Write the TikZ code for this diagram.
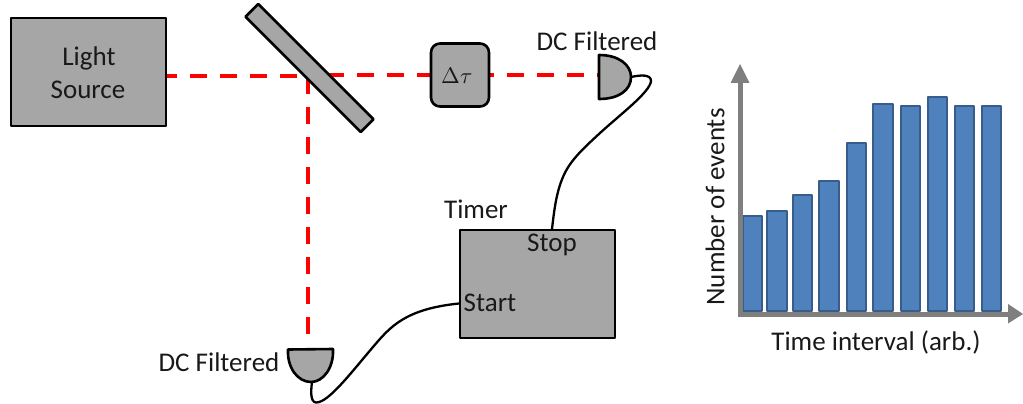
\documentclass[tikz,border=0pt]{standalone}
\usepackage{fontspec}
\usepackage{unicode-math}
\setmainfont{Carlito}
\setmathfont{Latin Modern Math}
\definecolor{boxgray}{HTML}{A6A6A6}
\definecolor{axisgray}{HTML}{7F7F7F}
\definecolor{barblue}{HTML}{4F81BD}
\definecolor{barline}{HTML}{385D8A}
\definecolor{beamred}{HTML}{FF0000}
\tikzset{
  part/.style={draw=black,fill=boxgray,line width=2.6pt,inner sep=0pt,line join=round},
  beam/.style={draw=beamred,line width=4pt,dash pattern=on 17pt off 13pt},
  wire/.style={draw=black,line width=2.3pt,line cap=round},
  lab/.style={inner sep=0pt,font=\fontsize{27}{30}\selectfont,text=black!90},
  mathlab/.style={inner sep=0pt,font=\fontsize{22.5}{26}\selectfont,text=black!90},
  bar/.style={draw=barline,fill=barblue,line width=1.8pt,line join=round},
  axisline/.style={draw=axisgray,line width=5pt},
  axishead/.style={fill=axisgray}
}
\begin{document}
\begin{tikzpicture}[x=1pt,y=-1pt]
\useasboundingbox (0,0) rectangle (1023,404);
% coordinates
\coordinate (beamstart) at (160,76.5);
\coordinate (beamhit) at (310,76.5);
\coordinate (beamout) at (327,75.5);
\coordinate (split) at (308,77);
\coordinate (detAin) at (599,75.5);
\coordinate (detAout) at (631,77);
\coordinate (detBin) at (308,337);
\coordinate (detBout) at (312,382);
% beams
\draw[beam] (beamstart) -- (beamhit);
\draw[beam] (beamout) -- (detAin);
\draw[beam] (split) -- (detBin);
% optical parts
\node[part,minimum width=155pt,minimum height=108pt,align=center] (source) at (88.5,72) {};
\node[part,rotate=-45,minimum width=163pt,minimum height=18pt] (mirror) at (309.5,68) {};
\node[part,rounded corners=9pt,minimum width=58pt,minimum height=63pt] (delay) at (460,75) {};
\node[part,minimum width=155pt,minimum height=108pt] (timer) at (537.5,284) {};
\draw[part] (599,55) .. controls (619,55) and (631,65) .. (631,77) .. controls (631,90) and (619,99) .. (599,99) -- cycle;
\draw[part] (288,349.5) -- (333,349) .. controls (334,368) and (323,382) .. (311,382) .. controls (298,382) and (287,368) .. (288,349.5) -- cycle;
% wires
\draw[wire] (detAout) .. controls (640,75) and (651,74) .. (651,81) .. controls (650,92) and (622,113) .. (600,133) .. controls (585,147) and (570,160) .. (563,177) .. controls (556,193) and (554,212) .. (552,229);
\draw[wire] (detBout) .. controls (311,390) and (310,402) .. (316,402.5) .. controls (328,403) and (350,374) .. (373,347) .. controls (390,327) and (405,309) .. (459,303.5);
% labels
\node[lab] (lightA) at (89,58) {Light};
\node[lab] (lightB) at (88,90) {Source};
\node[mathlab] (dtau) at (457,76) {$\Delta\tau$};
\node[lab] (dcA) at (597,41) {DC Filtered};
\node[lab] (dcB) at (219,362) {DC Filtered};
\node[lab] (timerlab) at (476,209) {Timer};
\node[lab] (stop) at (552,245) {Stop};
\node[lab] (start) at (490,303) {Start};
% chart bars
\foreach \xa/\xb/\t in {743.3/762/215.7,767.3/787/211,792.7/812.3/195,819.3/839/180.7,846.7/866.3/143,873.3/893/104,900.7/920.3/106.3,927.7/947/97,955/974.3/105.7,981.7/1001/106.3}
  \draw[bar] (\xa,310.7) rectangle (\xb,\t);
% axes
\coordinate (origin) at (740,314);
\coordinate (ytip) at (740,64);
\coordinate (xtip) at (1023,314);
\draw[axisline] (737.5,314) -- (1008,314);
\draw[axisline] (origin) -- (740,80);
\fill[axishead] (ytip) -- (749.5,83) -- (730.5,83) -- cycle;
\fill[axishead] (xtip) -- (1008,304) -- (1008,323.5) -- cycle;
\node[lab,rotate=90] (ylab) at (715,207) {Number of events};
\node[lab] (xlab) at (876,342) {Time interval (arb.)};
\end{tikzpicture}
\end{document}
